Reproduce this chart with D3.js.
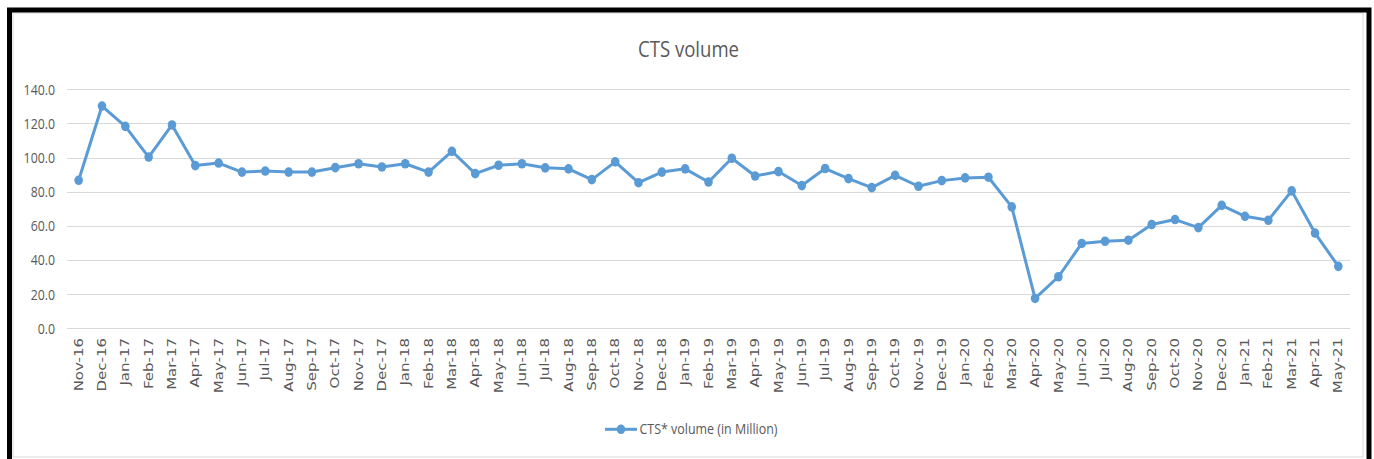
<!DOCTYPE html>
<html>
<head>
<meta charset="utf-8">
<script src="https://cdn.jsdelivr.net/npm/d3@7"></script>
<style>
  html, body { margin: 0; padding: 0; background: #fff; }
  svg { display: block; }
</style>
</head>
<body>
<svg id="chart" width="1374" height="459"></svg>
<script>
// Monthly CTS volume, in millions
const months = [
  "Nov-16","Dec-16",
  "Jan-17","Feb-17","Mar-17","Apr-17","May-17","Jun-17","Jul-17","Aug-17","Sep-17","Oct-17","Nov-17","Dec-17",
  "Jan-18","Feb-18","Mar-18","Apr-18","May-18","Jun-18","Jul-18","Aug-18","Sep-18","Oct-18","Nov-18","Dec-18",
  "Jan-19","Feb-19","Mar-19","Apr-19","May-19","Jun-19","Jul-19","Aug-19","Sep-19","Oct-19","Nov-19","Dec-19",
  "Jan-20","Feb-20","Mar-20","Apr-20","May-20","Jun-20","Jul-20","Aug-20","Sep-20","Oct-20","Nov-20","Dec-20",
  "Jan-21","Feb-21","Mar-21","Apr-21","May-21"
];
const volume = [
  86.7, 130.2,
  118.3, 100.3, 119.1, 95.3, 96.8, 91.5, 92.1, 91.5, 91.5, 94.1, 96.4, 94.5,
  96.4, 91.5, 103.7, 90.6, 95.5, 96.4, 94.0, 93.4, 87.1, 97.5, 85.3, 91.5,
  93.4, 85.7, 99.6, 89.2, 91.8, 83.6, 93.6, 87.7, 82.4, 89.6, 83.2, 86.5,
  88.1, 88.5, 71.1, 17.5, 30.2, 49.7, 51.0, 51.6, 60.8, 63.7, 59.0, 72.0,
  65.6, 63.3, 80.5, 55.8, 36.3
];
const yTicks = [0, 20, 40, 60, 80, 100, 120, 140];
const chartTitle = "CTS volume";
const seriesName = "CTS* volume (in Million)";

const svg = d3.select("#chart");
const blue = "#5B9BD5";
const textGray = "#595959";
const gridGray = "#D9D9D9";
const sans = "'Open Sans', 'Noto Sans', sans-serif";

// Frame: thin grey chart border inside a heavy black outline
svg.append("rect")
  .attr("x", 13).attr("y", 13).attr("width", 1350).attr("height", 444)
  .attr("fill", "#fff").attr("stroke", gridGray).attr("stroke-width", 1);
svg.append("rect")
  .attr("x", 9.5).attr("y", 10).attr("width", 1359.5).attr("height", 470)
  .attr("fill", "none").attr("stroke", "#000").attr("stroke-width", 5);

const x = d3.scaleBand().domain(months).range([67, 1350]).padding(0);
const y = d3.scaleLinear().domain([0, 140]).range([328.3, 89.3]);
const cx = d => x(d) + x.bandwidth() / 2;

// Horizontal gridlines
svg.append("g")
  .selectAll("line").data(yTicks).join("line")
  .attr("x1", 67).attr("x2", 1350)
  .attr("y1", d => Math.round(y(d)) + 0.5).attr("y2", d => Math.round(y(d)) + 0.5)
  .attr("stroke", gridGray).attr("stroke-width", 1);

// Value axis labels
const yAxis = svg.append("g")
  .attr("transform", "translate(55,0)")
  .call(d3.axisLeft(y).tickValues(yTicks).tickFormat(d3.format(".1f")).tickSize(0).tickPadding(0));
yAxis.select(".domain").remove();
yAxis.selectAll("text")
  .attr("x", 0).attr("dy", "0.35em")
  .attr("transform", "scale(0.88,1)")
  .attr("fill", textGray)
  .style("font-family", sans).style("font-size", "14px");

// Category axis labels, rotated
const xAxis = svg.append("g")
  .attr("transform", "translate(0,328)")
  .call(d3.axisBottom(x).tickSize(0).tickPadding(0));
xAxis.select(".domain").remove();
xAxis.selectAll("text")
  .attr("x", 0).attr("y", 0).attr("dy", "0.36em")
  .attr("text-anchor", "end")
  .attr("transform", "translate(0,10) scale(0.76,1) rotate(-90)")
  .attr("fill", textGray)
  .style("font-family", "'DejaVu Sans', Verdana, sans-serif").style("font-size", "15px");

// Series line and markers
const line = d3.line().x((d, i) => cx(months[i])).y(d => y(d));
svg.append("path")
  .datum(volume)
  .attr("d", line)
  .attr("fill", "none").attr("stroke", blue)
  .attr("stroke-width", 3).attr("stroke-linejoin", "round");
svg.append("g")
  .selectAll("ellipse").data(volume).join("ellipse")
  .attr("cx", (d, i) => cx(months[i])).attr("cy", d => y(d))
  .attr("rx", 4.3).attr("ry", 4.8)
  .attr("fill", blue);

// Title
svg.append("text")
  .attr("x", 688.5).attr("y", 57)
  .attr("text-anchor", "middle")
  .attr("textLength", 101).attr("lengthAdjust", "spacingAndGlyphs")
  .attr("fill", textGray)
  .style("font-family", sans).style("font-size", "22px")
  .text(chartTitle);

// Legend
const legend = svg.append("g");
legend.append("line")
  .attr("x1", 605).attr("x2", 637).attr("y1", 429.3).attr("y2", 429.3)
  .attr("stroke", blue).attr("stroke-width", 3);
legend.append("ellipse")
  .attr("cx", 621).attr("cy", 429.3).attr("rx", 4.3).attr("ry", 4.8)
  .attr("fill", blue);
legend.append("text")
  .attr("x", 639.5).attr("y", 434.3)
  .attr("textLength", 138).attr("lengthAdjust", "spacingAndGlyphs")
  .attr("fill", textGray)
  .style("font-family", sans).style("font-size", "14px")
  .text(seriesName);
</script>
</body>
</html>
